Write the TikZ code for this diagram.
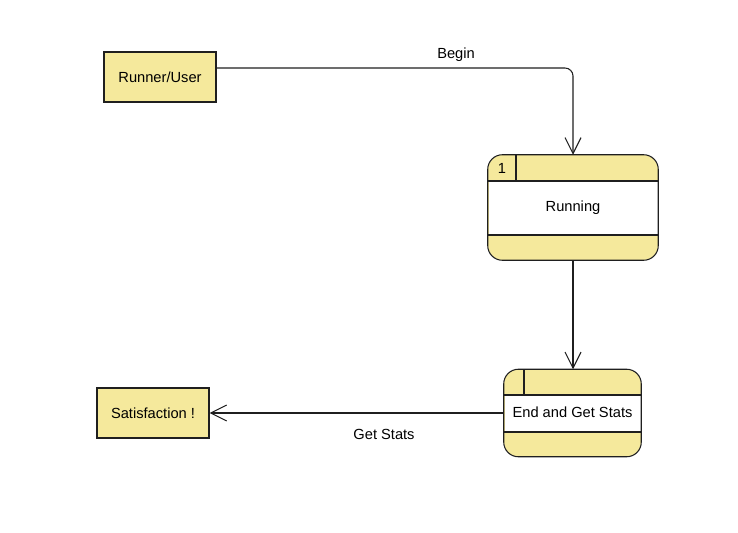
\documentclass[tikz,border=0pt]{standalone}
\usepackage{fontspec}
\setmainfont{Liberation Sans}
\usepackage{tikz}
\usetikzlibrary{arrows.meta}
\definecolor{dfdyellow}{HTML}{F5E99C}
\definecolor{dfdline}{HTML}{1F1F1F}
\tikzset{
	entity/.style={draw=dfdline, fill=dfdyellow, line width=0.8pt, minimum width=84pt, minimum height=37.5pt, inner sep=0pt, font=\fontsize{11}{13}\selectfont},
	proc/.style={fill=dfdyellow, rounded corners=11pt, inner sep=0pt},
	procline/.style={draw=dfdline, line width=0.8pt},
	flow/.style={draw=dfdline, line width=0.8pt, -{Straight Barb[length=12pt, width=12pt, line width=0.8pt]}},
	lbl/.style={font=\fontsize{11}{13}\selectfont, inner sep=0pt}
}
\begin{document}
\begin{tikzpicture}[x=0.75pt, y=-0.75pt]
\useasboundingbox (0,0) rectangle (738,532);
% external entities
\node[entity] (user) at (160,77) {Runner/User};
\node[entity] (sat) at (153,413) {Satisfaction !};
% process 1
\node[proc, minimum width=127.5pt, minimum height=78.75pt] (run) at (573,207.5) {};
\fill[white] (488.5,181) rectangle (657.5,235);
\draw[procline] (488,181) -- (658,181);
\draw[procline] (488,235) -- (658,235);
\draw[procline] (516,155) -- (516,181);
\draw[procline, rounded corners=11pt] (run.north west) rectangle (run.south east);
\node[lbl] (runno) at (502,168) {1};
\node[lbl] (runtxt) at (573,207.5) {Running};
% process 2
\node[proc, minimum width=102.75pt, minimum height=65.25pt] (endp) at (572.5,413) {};
\fill[white] (504.5,395) rectangle (640.5,432);
\draw[procline] (504,395) -- (641,395);
\draw[procline] (504,432) -- (641,432);
\draw[procline] (524,369.5) -- (524,395);
\draw[procline, rounded corners=11pt] (endp.north west) rectangle (endp.south east);
\node[lbl] (endtxt) at (572.5,412.5) {End and Get Stats};
% flows
\draw[flow, rounded corners=6pt] ([yshift=6.75pt]user.east) -| (run.north);
\node[lbl] (begin) at (456,55) {Begin};
\draw[flow] (run.south) -- (run.south |- endp.north);
\draw[flow] (endp.west) -- (endp.west -| sat.east);
\node[lbl] (getstats) at (384,434) {Get Stats};
\end{tikzpicture}
\end{document}
